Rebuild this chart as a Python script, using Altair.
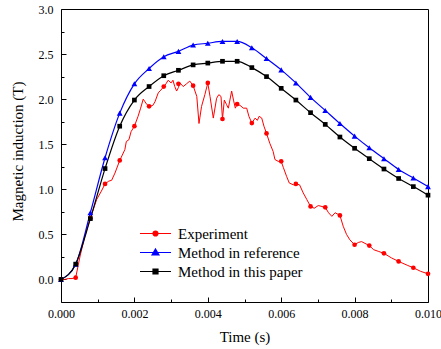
import altair as alt
import pandas as pd

# ---------------- data ----------------
marker_t = [0.0000, 0.0004, 0.0008, 0.0012, 0.0016, 0.0020, 0.0024, 0.0028, 0.0032,
            0.0036, 0.0040, 0.0044, 0.0048, 0.0052, 0.0056, 0.0060, 0.0064, 0.0068,
            0.0072, 0.0076, 0.0080, 0.0084, 0.0088, 0.0092, 0.0096, 0.0100]

blue_b = [0.00, 0.17, 0.74, 1.35, 1.845, 2.17, 2.34, 2.47, 2.53, 2.60, 2.62, 2.64, 2.64,
          2.57, 2.45, 2.325, 2.18, 2.02, 1.875, 1.73, 1.59, 1.46, 1.34, 1.22, 1.125, 1.03]

black_b = [0.00, 0.17, 0.675, 1.23, 1.70, 1.99, 2.14, 2.26, 2.32, 2.38, 2.40, 2.42, 2.42,
           2.35, 2.25, 2.12, 1.99, 1.85, 1.72, 1.58, 1.455, 1.34, 1.225, 1.12, 1.03, 0.935]

red_marker_b = [0.00, 0.02, 0.68, 1.06, 1.32, 1.70, 1.92, 2.14, 2.17, 2.15, 2.18, 1.78, 1.945,
                1.735, 1.62, 1.31, 1.06, 0.81, 0.80, 0.71, 0.385, 0.376, 0.29, 0.20, 0.13, 0.063]

red_t = [0.00000, 0.00010, 0.00020, 0.00030, 0.00040, 0.00052, 0.00065, 0.00080, 0.00090,
         0.00097, 0.00110, 0.00120, 0.00130, 0.00138, 0.00147, 0.00160, 0.00167, 0.00174,
         0.00178, 0.00185, 0.00191, 0.00200, 0.00210, 0.00217, 0.00224, 0.00229, 0.00234,
         0.00240, 0.00250, 0.00256, 0.00265, 0.00272, 0.00280, 0.00286, 0.00292, 0.00300,
         0.00305, 0.00310, 0.00315, 0.00320, 0.00324, 0.00333, 0.00342, 0.00351, 0.00360,
         0.00370, 0.00376, 0.00383, 0.00392, 0.00400, 0.00406, 0.00415, 0.00424, 0.00430,
         0.00436, 0.00440, 0.00445, 0.00451, 0.00456, 0.00465, 0.00470, 0.00475, 0.00480,
         0.00488, 0.00497, 0.00506, 0.00512, 0.00520, 0.00529, 0.00535, 0.00540, 0.00547,
         0.00553, 0.00560, 0.00569, 0.00578, 0.00583, 0.00592, 0.00600, 0.00606, 0.00615,
         0.00622, 0.00633, 0.00640, 0.00650, 0.00660, 0.00670, 0.00680, 0.00690, 0.00701,
         0.00720, 0.00729, 0.00738, 0.00747, 0.00760, 0.00769, 0.00778, 0.00787, 0.00800,
         0.00810, 0.00819, 0.00840, 0.00852, 0.00866, 0.00880, 0.00900, 0.00920, 0.00945,
         0.00960, 0.00980, 0.01000]

red_b = [0.00, 0.00, 0.01, 0.01, 0.02, 0.26, 0.48, 0.68, 0.80,
         0.885, 0.98, 1.06, 1.09, 1.10, 1.18, 1.32, 1.38, 1.44,
         1.53, 1.55, 1.64, 1.70, 1.81, 1.90, 2.00, 1.97, 1.94,
         1.92, 1.93, 1.97, 2.07, 2.10, 2.14, 2.17, 2.21, 2.18,
         2.21, 2.14, 2.09, 2.13, 2.18, 2.14, 2.17, 2.20, 2.15,
         2.03, 1.73, 1.92, 2.05, 2.18, 2.03, 1.79, 2.01, 2.05,
         2.03, 1.78, 1.99, 1.94, 1.90, 2.09, 1.99, 1.90, 1.945,
         1.93, 1.90, 1.90, 1.81, 1.735, 1.79, 1.765, 1.81, 1.79,
         1.70, 1.62, 1.51, 1.42, 1.33, 1.31, 1.31, 1.24, 1.14,
         1.07, 1.05, 1.06, 1.05, 0.96, 0.885, 0.81, 0.79, 0.82,
         0.80, 0.74, 0.70, 0.74, 0.71, 0.59, 0.50, 0.44, 0.385,
         0.41, 0.42, 0.376, 0.33, 0.31, 0.29, 0.24, 0.20, 0.155,
         0.13, 0.09, 0.063]

series_names = ["Experiment", "Method in reference", "Method in this paper"]
series_colors = ["#ff0000", "#0000ff", "#000000"]

x_major_vals = [0.000, 0.002, 0.004, 0.006, 0.008, 0.010]
x_minor_vals = [0.001, 0.003, 0.005, 0.007, 0.009]
y_major_vals = [0.0, 0.5, 1.0, 1.5, 2.0, 2.5, 3.0]
y_minor_vals = [0.25, 0.75, 1.25, 1.75, 2.25, 2.75]


# ---------------- legend symbol paths (line + solid-looking marker) ----------------
def _circle(r):
    return f"M{r},0A{r},{r},0,1,1,{-r},0A{r},{r},0,1,1,{r},0Z"


def _tri(k):
    return f"M0,{0.1 - 0.8 * k}L{0.7 * k},{0.1 + 0.4 * k}L{-0.7 * k},{0.1 + 0.4 * k}Z"


def _sq(h):
    return f"M{-h},{-h}H{h}V{h}H{-h}Z"


LINE = "M-3.1,0H3.1"
legend_paths = [
    LINE + "".join(_circle(r) for r in (0.5, 0.35, 0.2, 0.06)),
    LINE + "".join(_tri(k) for k in (1.0, 0.65, 0.35, 0.08)),
    LINE + "".join(_sq(h) for h in (0.5, 0.32, 0.14)),
]

# ---------------- tables ----------------
df_red = pd.DataFrame({"t": red_t, "B": red_b})
df_red_m = pd.DataFrame({"t": marker_t, "B": red_marker_b})
df_blue = pd.DataFrame({"t": marker_t, "B": blue_b})
df_black = pd.DataFrame({"t": marker_t, "B": black_b})
df_leg = pd.DataFrame({"t": marker_t[:3], "B": black_b[:3], "series": series_names})

FONT = "Liberation Serif"
xs = alt.Scale(domain=[0, 0.010], nice=False, zero=False)
ys = alt.Scale(domain=[-0.25, 3.0], nice=False, zero=False)

common_axis = dict(grid=False, domain=False, tickColor="black", labelColor="black",
                   titleColor="black", labelFont=FONT, titleFont=FONT, labelFontSize=12,
                   titleFontSize=15, titleFontWeight="normal", tickWidth=1)

x_major = alt.Axis(values=x_major_vals, format=".3f", orient="bottom", offset=-5, tickSize=5,
                   labelPadding=6, labelFlush=False, title="Time (s)", titlePadding=10,
                   **common_axis)
y_major = alt.Axis(values=y_major_vals, format=".1f", orient="left", offset=-5, tickSize=5,
                   labelPadding=8, title="Magnetic induction (T)", titlePadding=13,
                   titleY=142, **common_axis)
x_minor = alt.Axis(values=x_minor_vals, labels=False, orient="bottom", offset=-3, tickSize=3,
                   title=None, **common_axis)
y_minor = alt.Axis(values=y_minor_vals, labels=False, orient="left", offset=-3, tickSize=3,
                   title=None, **common_axis)

red_line = alt.Chart(df_red).mark_line(color="#ff0000", strokeWidth=1).encode(
    x=alt.X("t:Q", scale=xs, axis=x_major),
    y=alt.Y("B:Q", scale=ys, axis=y_major))
blue_line = alt.Chart(df_blue).mark_line(color="#0000ff", strokeWidth=1.2,
                                         interpolate="monotone").encode(
    x=alt.X("t:Q", scale=xs, axis=x_minor),
    y=alt.Y("B:Q", scale=ys, axis=y_minor))
black_line = alt.Chart(df_black).mark_line(color="#000000", strokeWidth=1.2,
                                           interpolate="monotone").encode(
    x=alt.X("t:Q", scale=xs, axis=None),
    y=alt.Y("B:Q", scale=ys, axis=None))

red_pts = alt.Chart(df_red_m).mark_point(filled=True, shape="circle", size=22,
                                         color="#ff0000", opacity=1).encode(
    x=alt.X("t:Q", scale=xs, axis=None), y=alt.Y("B:Q", scale=ys, axis=None))
blue_pts = alt.Chart(df_blue).mark_point(filled=True, shape="triangle-up", size=34,
                                         color="#0000ff", opacity=1).encode(
    x=alt.X("t:Q", scale=xs, axis=None), y=alt.Y("B:Q", scale=ys, axis=None))
black_pts = alt.Chart(df_black).mark_point(filled=True, shape="square", size=22,
                                           color="#000000", opacity=1).encode(
    x=alt.X("t:Q", scale=xs, axis=None), y=alt.Y("B:Q", scale=ys, axis=None))

leg_props = dict(title=None, orient="none", legendX=87, legendY=217, symbolSize=100,
                 symbolStrokeWidth=1.2, symbolFillColor="transparent", labelFont=FONT,
                 labelFontSize=15, labelColor="black", labelOffset=15, rowPadding=3,
                 padding=0)
legend_layer = alt.Chart(df_leg).mark_point(filled=False, opacity=0).encode(
    x=alt.X("t:Q", scale=xs, axis=None),
    y=alt.Y("B:Q", scale=ys, axis=None),
    color=alt.Color("series:N", scale=alt.Scale(domain=series_names, range=series_colors),
                    legend=alt.Legend(**leg_props)),
    shape=alt.Shape("series:N", scale=alt.Scale(domain=series_names, range=legend_paths),
                    legend=alt.Legend(**leg_props)),
)

chart = alt.layer(
    red_line, blue_line, black_line, red_pts, blue_pts, black_pts, legend_layer
).resolve_axis(x="independent", y="independent").properties(
    width=367, height=293,
    autosize=alt.AutoSizeParams(type="none"),
    padding={"left": 61, "top": 9, "right": 13, "bottom": 47},
).configure_view(stroke="black", strokeWidth=1)

chart.save("out.html", embed_options={"renderer": "svg", "actions": False})
